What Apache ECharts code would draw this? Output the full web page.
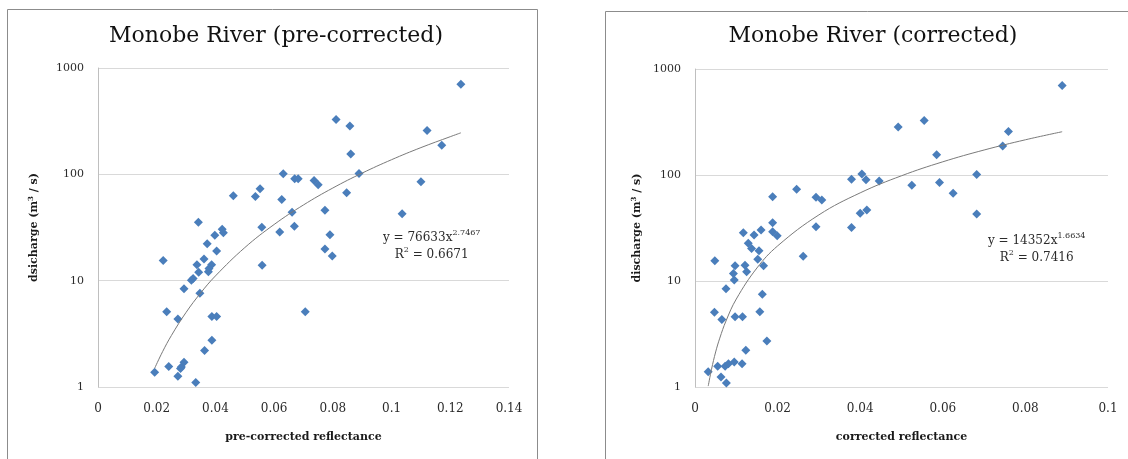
<!DOCTYPE html>
<html>
<head>
<meta charset="utf-8">
<script src="https://cdn.jsdelivr.net/npm/echarts@6/dist/echarts.min.js"></script>
<style>
html,body{margin:0;padding:0;background:#fff;}
#c{width:1128px;height:459px;}
</style>
</head>
<body>
<div id="c"></div>
<script>
// ---- data ----
var leftTitle = 'Monobe River (pre-corrected)';
var rightTitle = 'Monobe River (corrected)';
var leftXName = 'pre-corrected reflectance';
var rightXName = 'corrected reflectance';
var leftXTicks = ['0', '0.02', '0.04', '0.06', '0.08', '0.1', '0.12', '0.14'];
var rightXTicks = ['0', '0.02', '0.04', '0.06', '0.08', '0.1'];
var yTicks = ['1', '10', '100', '1000'];

var leftX = [0.0193,0.0241,0.0272,0.0284,0.0293,0.0281,0.0333,0.0363,0.0388,0.0388,0.0404,0.0234,0.0272,0.0347,0.0293,0.0318,0.0324,0.0222,0.0337,0.0343,0.0361,0.0376,0.0387,0.0378,0.0372,0.0404,0.0398,0.0423,0.0427,0.0342,0.0461,0.0536,0.0552,0.0558,0.0559,0.0631,0.0626,0.0619,0.0661,0.0669,0.0670,0.0682,0.0706,0.0736,0.0750,0.0773,0.0790,0.0773,0.0798,0.0811,0.0858,0.0861,0.0889,0.0847,0.1036,0.1100,0.1121,0.1171,0.1236];
var leftY = [1.38,1.56,1.26,1.54,1.71,1.49,1.10,2.2,2.75,4.6,4.6,5.1,4.36,7.6,8.4,10.1,10.5,15.5,14.1,12,16,12.1,14.1,13,22.2,19,26.7,30.4,28.3,35.4,63,62,73,31.8,14,101,58,28.7,44,32.5,91,91,5.1,87.5,80,46,27,19.8,17.1,327,285,155,102,67,42.7,85,259,188,703];

var rightX = [0.0032,0.0055,0.0063,0.0076,0.0073,0.0081,0.0095,0.0114,0.0123,0.0174,0.0047,0.0065,0.0097,0.0115,0.0157,0.0163,0.0075,0.0095,0.0093,0.0097,0.0048,0.0121,0.0125,0.0166,0.0152,0.0155,0.0137,0.0129,0.0117,0.0143,0.0160,0.0188,0.0188,0.0199,0.0188,0.0246,0.0262,0.0293,0.0307,0.0293,0.0379,0.0379,0.0404,0.0414,0.0400,0.0416,0.0446,0.0492,0.0555,0.0525,0.0585,0.0592,0.0625,0.0682,0.0682,0.0745,0.0759,0.0889];
var rightY = [1.39,1.57,1.24,1.09,1.57,1.66,1.72,1.66,2.22,2.72,5.08,4.34,4.59,4.59,5.12,7.5,8.44,10.2,11.8,13.9,15.5,14.1,12.2,13.9,16,19.3,20.3,22.7,28.6,27.2,30.3,35.5,29.2,26.7,62.5,73.4,17.1,61.7,58,32.5,91,32,102,90,43.5,46.8,88,283,327,80,155,84.8,67.3,101,42.9,188,257,700];

// trendline points
var leftTrendX = [0.0193,0.022,0.025,0.03,0.035,0.04,0.05,0.06,0.07,0.08,0.09,0.10,0.11,0.12,0.1236];
var leftTrendY = [1.50,2.15,3.05,5.03,7.68,11.08,20.46,33.76,51.55,74.4,102.8,137.3,178.4,226,245.7];
var rightTrendX = [0.0032,0.004,0.005,0.006,0.0075,0.01,0.015,0.02,0.03,0.04,0.05,0.06,0.07,0.08,0.0889];
var rightTrendY = [1.02,1.47,2.14,2.89,4.19,6.76,13.27,21.42,42.05,67.86,98.35,133.2,172.1,214.9,256];

var leftEq = ['y = 76633x', '2.7467', '0.6671'];
var rightEq = ['y = 14352x', '1.6634', '0.7416'];

// ---- build ----
function pairs(xs, ys){ var out=[]; for(var i=0;i<xs.length;i++) out.push([xs[i], ys[i]]); return out; }

var SERIF = 'DejaVu Serif';
var TXT = '#2b2b2b';
var GRID = '#d9d9d9';
var BLUE = '#4a7ebb';

function xAxisCfg(idx, max, ticks, name){
  return {
    type:'value', gridIndex: idx, min:0, max:max, interval:0.02,
    axisLine:{show:false}, axisTick:{show:false}, splitLine:{show:false},
    axisLabel:{ margin:16, color:TXT, fontFamily:SERIF, fontSize:12,
      formatter:function(v){ var k=Math.round(v/0.02); return ticks[k]!==undefined?ticks[k]:''; } },
    name:name, nameLocation:'middle', nameGap:45,
    nameTextStyle:{ fontFamily:SERIF, fontWeight:'bold', fontSize:11, color:'#1a1a1a' }
  };
}
function yAxisCfg(idx, name, gap){
  return {
    type:'log', logBase:10, gridIndex: idx, min:1, max:1000,
    axisLine:{show:true, lineStyle:{color:'#bfbfbf', width:1}}, axisTick:{show:false},
    splitLine:{show:true, lineStyle:{color:GRID, width:1}},
    axisLabel:{ margin:14, color:TXT, fontFamily:SERIF, fontSize:11,
      formatter:function(v){ var k=Math.round(Math.log(v)/Math.LN10); return yTicks[k]; } },
    name:name, nameLocation:'middle', nameGap:gap,
    nameTextStyle:{ fontFamily:SERIF, fontWeight:'bold', fontSize:11, color:'#1a1a1a',
      rich:{ n:{fontFamily:SERIF, fontWeight:'bold', fontSize:11, color:'#1a1a1a'},
             s:{fontFamily:SERIF, fontWeight:'bold', fontSize:7, color:'#1a1a1a', verticalAlign:'top', padding:[0,0,5,0]} } }
  };
}
function eqText(cx, top, eq){
  return {
    type:'text', left: cx - 52, top: top, z: 10,
    style:{
      text:'{n|'+eq[0]+'}{s|'+eq[1]+'}\n{n|R}{s|2}{n| = '+eq[2]+'}',
      textAlign:'center', x:52, fill:'#333',
      rich:{ n:{fontFamily:SERIF, fontSize:12, fill:'#2b2b2b', lineHeight:17, align:'center'},
             s:{fontFamily:SERIF, fontSize:8, fill:'#2b2b2b', verticalAlign:'top', lineHeight:17, padding:[0,0,6,0]} }
    }
  };
}

var chart = echarts.init(document.getElementById('c'), null, {renderer:'canvas'});
chart.setOption({
  backgroundColor:'#fff',
  animation:false,
  title:[
    { text:leftTitle, left:271, top:20, textAlign:'center',
      textStyle:{ fontFamily:SERIF, fontWeight:'normal', fontSize:22, color:'#111' } },
    { text:rightTitle, left:868, top:20, textAlign:'center',
      textStyle:{ fontFamily:SERIF, fontWeight:'normal', fontSize:22, color:'#111' } }
  ],
  grid:[
    { left:98, top:68, width:411, height:319, containLabel:false },
    { left:695, top:69, width:413, height:318, containLabel:false }
  ],
  xAxis:[ xAxisCfg(0, 0.14, leftXTicks, leftXName), xAxisCfg(1, 0.1, rightXTicks, rightXName) ],
  yAxis:[ yAxisCfg(0, '{n|dsicharge (m}{s|3}{n| / s)}', 58), yAxisCfg(1, '{n|discharge (m}{s|3}{n| / s)}', 52) ],
  graphic:[
    { type:'rect', shape:{x:7.5, y:9.5, width:530, height:520}, style:{fill:'none', stroke:'#8c8c8c', lineWidth:1}, z:-1 },
    { type:'rect', shape:{x:605.5, y:11.5, width:600, height:520}, style:{fill:'none', stroke:'#8c8c8c', lineWidth:1}, z:-1 },
    eqText(435, 229, leftEq),
    eqText(1040, 232, rightEq)
  ],
  series:[
    { type:'scatter', xAxisIndex:0, yAxisIndex:0, symbol:'diamond', symbolSize:9,
      itemStyle:{color:BLUE, opacity:1}, data:pairs(leftX, leftY), z:3 },
    { type:'line', xAxisIndex:0, yAxisIndex:0, smooth:0.4, symbol:'none',
      lineStyle:{color:'#7a7a7a', width:1}, data:pairs(leftTrendX, leftTrendY), z:4 },
    { type:'scatter', xAxisIndex:1, yAxisIndex:1, symbol:'diamond', symbolSize:9,
      itemStyle:{color:BLUE, opacity:1}, data:pairs(rightX, rightY), z:3 },
    { type:'line', xAxisIndex:1, yAxisIndex:1, smooth:0.4, symbol:'none',
      lineStyle:{color:'#7a7a7a', width:1}, data:pairs(rightTrendX, rightTrendY), z:4 }
  ]
});
</script>
</body>
</html>
